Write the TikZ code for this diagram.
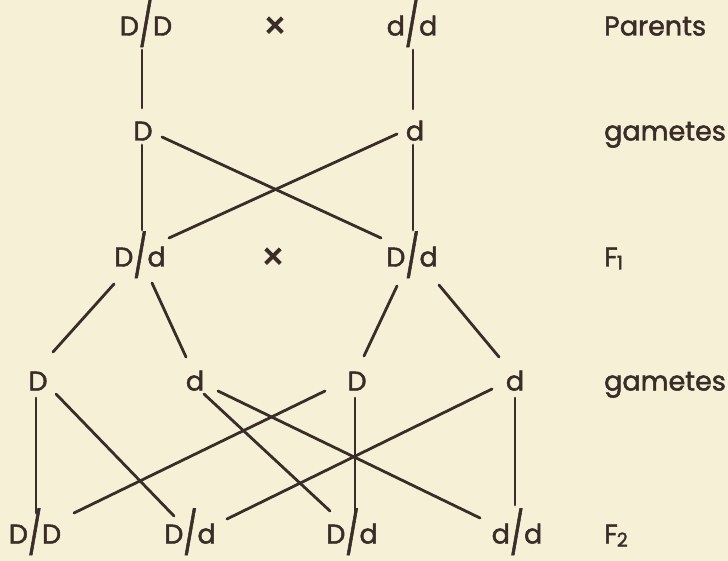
\documentclass[tikz,border=0pt]{standalone}
\usepackage{fontspec}
\setmainfont{Poppins}[FakeBold=1.8]
\usepackage{graphicx}
\definecolor{ink}{RGB}{58,44,40}
\definecolor{paper}{RGB}{246,241,214}
\newcommand{\gslash}{\raisebox{-4.5pt}{\scalebox{1.1}[1.55]{/}}}
\newcommand{\gsub}[1]{\kern-1pt\raisebox{-3pt}{\fontsize{19}{19}\selectfont #1}}
\newcommand{\gcross}{\raisebox{-3.5pt}{\scalebox{1.4}{×}}}
\tikzset{
  lbl/.style={inner sep=0pt, text height=19pt, text depth=0pt,
    font=\fontsize{27}{30}\selectfont, text=ink},
  side/.style={lbl, anchor=west},
  conn/.style={draw=ink, line width=2.8pt, line cap=round}
}
\begin{document}
\begin{tikzpicture}[x=1pt,y=-1pt]
\fill[paper] (0,0) rectangle (728,561);
\useasboundingbox (0,0) rectangle (728,561);
% row 1
\node[lbl] (P1) at (146,26) {D\gslash D};
\node[lbl] (X1) at (275,26) {\gcross};
\node[lbl] (P2) at (412,26) {d\gslash d};
\node[side] (Lp) at (604,26) {Parents};
% row 2
\node[lbl] (G1) at (143,131) {D};
\node[lbl] (G2) at (415,131) {d};
\node[side] (Lg1) at (604,131) {gametes};
% row 3
\node[lbl] (F1a) at (140,257) {D\gslash d};
\node[lbl] (X2) at (273,257) {\gcross};
\node[lbl] (F1b) at (412,257) {D\gslash d};
\node[side] (Lf1) at (604,257) {F\gsub{1}};
% row 4
\node[lbl] (g1) at (38,381) {D};
\node[lbl] (g2) at (195,381) {d};
\node[lbl] (g3) at (357,381) {D};
\node[lbl] (g4) at (515,381) {d};
\node[side] (Lg2) at (604,381) {gametes};
% row 5
\node[lbl] (f1) at (35,534) {D\gslash D};
\node[lbl] (f2) at (190,534) {D\gslash d};
\node[lbl] (f3) at (352,534) {D\gslash d};
\node[lbl] (f4) at (517,534) {d\gslash d};
\node[side] (Lf2) at (604,534) {F\gsub{2}};
% connectors
\draw[conn] ([shift={(-4,24)}]P1.center) -- ([shift={(-1,-23)}]G1.center);
\draw[conn] ([shift={(1,24)}]P2.center) -- ([shift={(-2,-22)}]G2.center);
\draw[conn] ([shift={(-1,14)}]G1.center) -- ([shift={(2,-27)}]F1a.center);
\draw[conn] ([shift={(-2,14)}]G2.center) -- ([shift={(1,-27)}]F1b.center);
\draw[conn] ([shift={(19,6)}]G1.center) -- ([shift={(-31,-19)}]F1b.center);
\draw[conn] ([shift={(-18,3)}]G2.center) -- ([shift={(29,-19)}]F1a.center);
\draw[conn] ([shift={(-26,27)}]F1a.center) -- ([shift={(15,-29)}]g1.center);
\draw[conn] ([shift={(12,26)}]F1a.center) -- ([shift={(-9,-24)}]g2.center);
\draw[conn] ([shift={(-15,29)}]F1b.center) -- ([shift={(7,-25)}]g3.center);
\draw[conn] ([shift={(27,28)}]F1b.center) -- ([shift={(-16,-24)}]g4.center);
\draw[conn] ([shift={(-2,17)}]g1.center) -- ([shift={(1,-21)}]f1.center);
\draw[conn] ([shift={(18,13)}]g1.center) -- ([shift={(-16,-18)}]f2.center);
\draw[conn] ([shift={(9,13)}]g2.center) -- ([shift={(-22,-23)}]f3.center);
\draw[conn] ([shift={(23,10)}]g2.center) -- ([shift={(-37,-16)}]f4.center);
\draw[conn] ([shift={(-32,10)}]g3.center) -- ([shift={(39,-21)}]f1.center);
\draw[conn] ([shift={(-2,17)}]g3.center) -- ([shift={(3,-21)}]f3.center);
\draw[conn] ([shift={(-23,8)}]g4.center) -- ([shift={(37,-15)}]f2.center);
\draw[conn] ([shift={(0,17)}]g4.center) -- ([shift={(-2,-29)}]f4.center);
\end{tikzpicture}
\end{document}
